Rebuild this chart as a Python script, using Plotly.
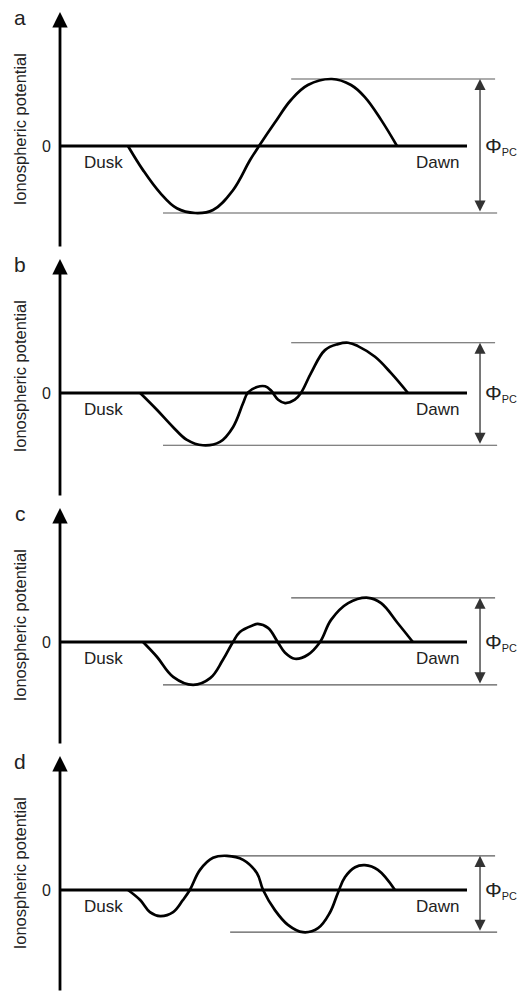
import plotly.graph_objects as go

# ---------------- data (x: dusk->dawn position, 0..100 ; y: potential, panel a max = 1) ----------------
panel_labels = ["a", "b", "c", "d"]

x_a = [16.7, 20.4, 24.6, 28.7, 33.2, 37.6, 42.5, 46.7, 48.9, 52.8, 56.8, 60.9, 66.8, 71.5, 74.9, 78.9, 82.8]
y_a = [0.0, -0.36, -0.70, -0.93, -1.0, -0.955, -0.66, -0.21, 0.0, 0.35, 0.69, 0.91, 1.0, 0.91, 0.73, 0.39, 0.0]

x_b = [19.7, 23.8, 27.8, 31.2, 35.1, 39.3, 42.5, 45.0, 46.2, 48.4, 50.4, 51.8, 53.6, 55.3, 57.7, 59.2,
       61.7, 65.1, 68.3, 70.8, 73.2, 77.4, 81.3, 85.5]
y_b = [0.0, -0.25, -0.51, -0.70, -0.78, -0.73, -0.51, -0.15, 0.01, 0.09, 0.10, 0.04, -0.10, -0.15, -0.10, 0.0,
       0.30, 0.64, 0.73, 0.75, 0.70, 0.54, 0.30, 0.0]

x_c = [20.4, 23.8, 27.8, 32.7, 36.9, 40.0, 42.5, 44.2, 47.4, 48.6, 51.1, 53.6, 55.3, 57.7, 60.9, 63.9,
       66.6, 70.8, 75.7, 78.9, 83.0, 86.7]
y_c = [0.0, -0.22, -0.52, -0.64, -0.54, -0.27, 0.0, 0.15, 0.25, 0.27, 0.21, -0.01, -0.16, -0.25, -0.19, 0.0,
       0.33, 0.58, 0.66, 0.58, 0.28, 0.0]

x_d = [16.7, 19.7, 22.1, 24.6, 27.8, 30.2, 31.9, 34.4, 37.6, 41.0, 45.0, 48.4, 49.9, 52.8, 56.0, 59.7,
       63.4, 66.3, 68.3, 70.0, 72.5, 74.9, 78.1, 82.3]
y_d = [0.0, -0.15, -0.33, -0.39, -0.33, -0.15, 0.0, 0.30, 0.48, 0.51, 0.45, 0.25, 0.0, -0.30, -0.52, -0.63,
       -0.57, -0.34, -0.04, 0.19, 0.34, 0.37, 0.30, 0.0]

curves_x = [x_a, x_b, x_c, x_d]
curves_y = [y_a, y_b, y_c, y_d]

y_title = "Ionospheric potential"
zero_label = "0"
dusk_label = "Dusk"
dawn_label = "Dawn"
phi_label = "<span style='font-size:21px'>Φ</span><sub>PC</sub>"

# ---------------- layout / style ----------------
W, H = 517, 992
PX = 4.07          # px per x unit
PY = 67.0          # px per potential unit
x_origin_px = 60
zero_px = [146, 393, 642, 890]
bounds_px = [0, 248, 497, 745, 992]
zero_line_end = 100.0
top_line_start = [56.8, 56.8, 56.8, 41.0]
bot_line_start = [25.3, 25.3, 25.3, 41.8]
top_line_end = 106.9
bot_line_end = 107.4
phi_arrow_x = 103.2
axis_tip = 2.0
FONT = "Liberation Sans, Arial, Helvetica, sans-serif"
GRAY = "#5a5a5a"

fig = go.Figure()
xr = [-x_origin_px / PX, (W - x_origin_px) / PX]
annotations = []

for i in range(4):
    sfx = "" if i == 0 else str(i + 1)
    xa, ya = "x" + sfx, "y" + sfx
    top, bot = bounds_px[i], bounds_px[i + 1]
    yr = [(zero_px[i] - bot) / PY, (zero_px[i] - top) / PY]
    fig.update_layout(**{
        "xaxis" + sfx: dict(domain=[0, 1], range=xr, visible=False, fixedrange=True, anchor=ya),
        "yaxis" + sfx: dict(domain=[1 - bot / H, 1 - top / H], range=yr, visible=False, fixedrange=True, anchor=xa),
    })
    cx, cy = curves_x[i], curves_y[i]
    ymax, ymin = max(cy), min(cy)

    # thin reference lines
    fig.add_trace(go.Scatter(x=[top_line_start[i], top_line_end], y=[ymax, ymax], mode="lines",
                             line=dict(color=GRAY, width=1.2), xaxis=xa, yaxis=ya, hoverinfo="skip"))
    fig.add_trace(go.Scatter(x=[bot_line_start[i], bot_line_end], y=[ymin, ymin], mode="lines",
                             line=dict(color=GRAY, width=1.2), xaxis=xa, yaxis=ya, hoverinfo="skip"))
    # zero line
    fig.add_trace(go.Scatter(x=[0, zero_line_end], y=[0, 0], mode="lines",
                             line=dict(color="black", width=3.2), xaxis=xa, yaxis=ya, hoverinfo="skip"))
    # potential curve
    fig.add_trace(go.Scatter(x=cx, y=cy, mode="lines",
                             line=dict(color="black", width=2.7, shape="spline", smoothing=1.1),
                             xaxis=xa, yaxis=ya))

    # vertical axis arrow
    annotations.append(dict(x=0, y=axis_tip, ax=0, ay=yr[0], xref=xa, yref=ya, axref=xa, ayref=ya,
                            text="", showarrow=True, arrowhead=2, arrowsize=1.1, arrowwidth=2.8,
                            arrowcolor="black", standoff=0))
    # Phi_PC double arrow
    annotations.append(dict(x=phi_arrow_x, y=ymax, ax=phi_arrow_x, ay=ymin, xref=xa, yref=ya, axref=xa, ayref=ya,
                            text="", showarrow=True, arrowside="end+start", arrowhead=2, startarrowhead=2,
                            arrowsize=1.7, startarrowsize=1.7, arrowwidth=1.3, arrowcolor="#333",
                            standoff=0, startstandoff=0))
    # texts
    annotations.append(dict(x=104.0, y=0, xref=xa, yref=ya, text=phi_label, showarrow=False,
                            xanchor="left", yanchor="middle", font=dict(family=FONT, size=15.5, color="#222")))
    annotations.append(dict(x=-3.2, y=0, xref=xa, yref=ya, text=zero_label, showarrow=False,
                            xanchor="center", yanchor="middle", font=dict(family=FONT, size=16, color="#222")))
    annotations.append(dict(x=10.6, y=-0.25, xref=xa, yref=ya, text=dusk_label, showarrow=False,
                            xanchor="center", yanchor="middle", font=dict(family=FONT, size=17, color="#222")))
    annotations.append(dict(x=92.8, y=-0.25, xref=xa, yref=ya, text=dawn_label, showarrow=False,
                            xanchor="center", yanchor="middle", font=dict(family=FONT, size=17, color="#222")))
    annotations.append(dict(x=-9.8, y=1.92, xref=xa, yref=ya, text=panel_labels[i], showarrow=False,
                            xanchor="center", yanchor="middle", font=dict(family=FONT, size=21, color="#222")))
    annotations.append(dict(x=-9.8, y=0.25, xref=xa, yref=ya, text=y_title, showarrow=False, textangle=-90,
                            xanchor="center", yanchor="middle", font=dict(family=FONT, size=16.5, color="#222")))

fig.update_layout(width=W, height=H, margin=dict(l=0, r=0, t=0, b=0), paper_bgcolor="white",
                  plot_bgcolor="white", showlegend=False, annotations=annotations)

fig.write_html("out.html", config={"displayModeBar": False})
